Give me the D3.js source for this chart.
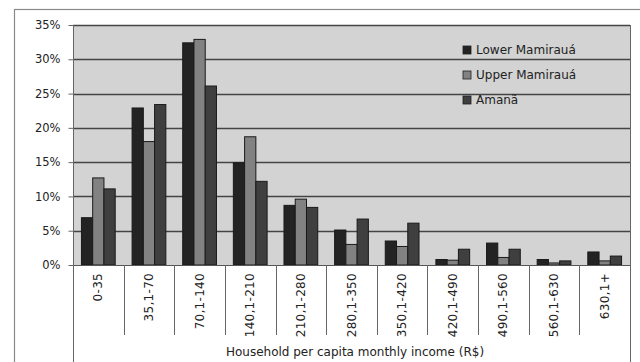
<!DOCTYPE html>
<html>
<head>
<meta charset="utf-8">
<script src="https://cdn.jsdelivr.net/npm/d3@7"></script>
<style>
  html, body { margin: 0; padding: 0; background: #fff; }
  svg { display: block; }
  text { font-family: "DejaVu Sans", sans-serif; fill: #222; }
</style>
</head>
<body>
<svg id="chart" width="640" height="362"></svg>
<script>
// Income brackets (R$ per capita per month)
const categories = ["0-35", "35,1-70", "70,1-140", "140,1-210", "210,1-280", "280,1-350",
                    "350,1-420", "420,1-490", "490,1-560", "560,1-630", "630,1+"];
const seriesNames = ["Lower Mamirauá", "Upper Mamirauá", "Amanã"];
// Share of households (%) in each bracket
const lowerMamiraua = [6.9, 22.9, 32.4, 14.9, 8.7, 5.1, 3.5, 0.8, 3.2, 0.8, 1.9];
const upperMamiraua = [12.7, 18.0, 32.9, 18.7, 9.6, 3.0, 2.7, 0.7, 1.1, 0.3, 0.6];
const amana         = [11.1, 23.4, 26.1, 12.2, 8.4, 6.7, 6.1, 2.3, 2.3, 0.6, 1.3];
const yTicks = [0, 5, 10, 15, 20, 25, 30, 35];
const xTitle = "Household per capita monthly income (R$)";

const seriesValues = [lowerMamiraua, upperMamiraua, amana];
const colors = ["#232323", "#828282", "#3f3f3f"];

const svg = d3.select("#chart");
const plot = { left: 73, right: 630, top: 25, bottom: 265 };

// outer chart frame
svg.append("rect")
  .attr("x", 14.5).attr("y", 9.5)
  .attr("width", 640).attr("height", 400)
  .attr("fill", "#fff").attr("stroke", "#8a8a8a").attr("stroke-width", 1.2);

const x0 = d3.scaleBand().domain(categories).range([plot.left, plot.right]).paddingInner(0).paddingOuter(0);
const x1 = d3.scaleBand().domain(d3.range(seriesNames.length)).range([0, x0.bandwidth()]).paddingInner(0).paddingOuter(0.75);
const y = d3.scaleLinear().domain([0, 35]).range([plot.bottom, plot.top]);

// plot background
svg.append("rect")
  .attr("x", plot.left).attr("y", plot.top)
  .attr("width", plot.right - plot.left).attr("height", plot.bottom - plot.top)
  .attr("fill", "#d3d3d3");

// horizontal gridlines
svg.append("g")
  .selectAll("line")
  .data(yTicks.filter(t => t > 0))
  .join("line")
  .attr("x1", plot.left).attr("x2", plot.right)
  .attr("y1", d => Math.round(y(d)) + 0.5).attr("y2", d => Math.round(y(d)) + 0.5)
  .attr("stroke", "#444").attr("stroke-width", 1.4);

// y axis
const yAxis = svg.append("g")
  .attr("transform", `translate(${plot.left + 0.5},0)`)
  .call(d3.axisLeft(y).tickValues(yTicks).tickSize(5).tickPadding(8).tickFormat(d => d + "%"));
yAxis.select(".domain").remove();
yAxis.selectAll(".tick line").attr("stroke", "#666");
yAxis.selectAll("text").attr("font-size", 11.5).attr("fill", "#222").style("font-family", "DejaVu Sans");

// bars
const groups = svg.append("g")
  .selectAll("g")
  .data(categories)
  .join("g")
  .attr("transform", d => `translate(${x0(d)},0)`);

groups.selectAll("rect")
  .data((c, i) => seriesValues.map((vals, s) => ({ s, v: vals[i] })))
  .join("rect")
  .attr("x", d => x1(d.s))
  .attr("y", d => y(d.v))
  .attr("width", x1.bandwidth())
  .attr("height", d => y(0) - y(d.v))
  .attr("fill", d => colors[d.s])
  .attr("stroke", "#1a1a1a").attr("stroke-width", 1);

// x axis line and category separators
svg.append("line")
  .attr("x1", plot.left).attr("x2", plot.right)
  .attr("y1", plot.bottom + 0.5).attr("y2", plot.bottom + 0.5)
  .attr("stroke", "#555").attr("stroke-width", 1.2);

const bounds = categories.map(c => x0(c)).concat([plot.right]);
svg.append("g")
  .selectAll("line")
  .data(bounds)
  .join("line")
  .attr("x1", d => Math.round(d) + 0.5).attr("x2", d => Math.round(d) + 0.5)
  .attr("y1", (d, i) => (i === 0 || i === bounds.length - 1) ? plot.top : plot.bottom)
  .attr("y2", (d, i) => (i === 0 || i === bounds.length - 1) ? 362 : 335)
  .attr("stroke", "#666").attr("stroke-width", 1);

// category labels, rotated
svg.append("g")
  .selectAll("text")
  .data(categories)
  .join("text")
  .attr("transform", d => `translate(${x0(d) + x0.bandwidth() / 2 + 4},273) rotate(-90)`)
  .attr("text-anchor", "end")
  .attr("font-size", 12)
  .style("letter-spacing", "0.3px")
  .text(d => d);

// x axis title
svg.append("text")
  .attr("x", 355)
  .attr("y", 356)
  .attr("text-anchor", "middle")
  .attr("font-size", 12)
  .text(xTitle);

// legend
const legend = svg.append("g").attr("transform", "translate(463,50)");
const li = legend.selectAll("g")
  .data(seriesNames)
  .join("g")
  .attr("transform", (d, i) => `translate(0,${i * 25})`);
li.append("rect")
  .attr("x", 0).attr("y", -4).attr("width", 8).attr("height", 8)
  .attr("fill", (d, i) => colors[i]).attr("stroke", "#1e1e1e").attr("stroke-width", 0.8);
li.append("text")
  .attr("x", 13).attr("y", 0).attr("dy", "0.36em")
  .attr("font-size", 12)
  .text(d => d);
</script>
</body>
</html>
